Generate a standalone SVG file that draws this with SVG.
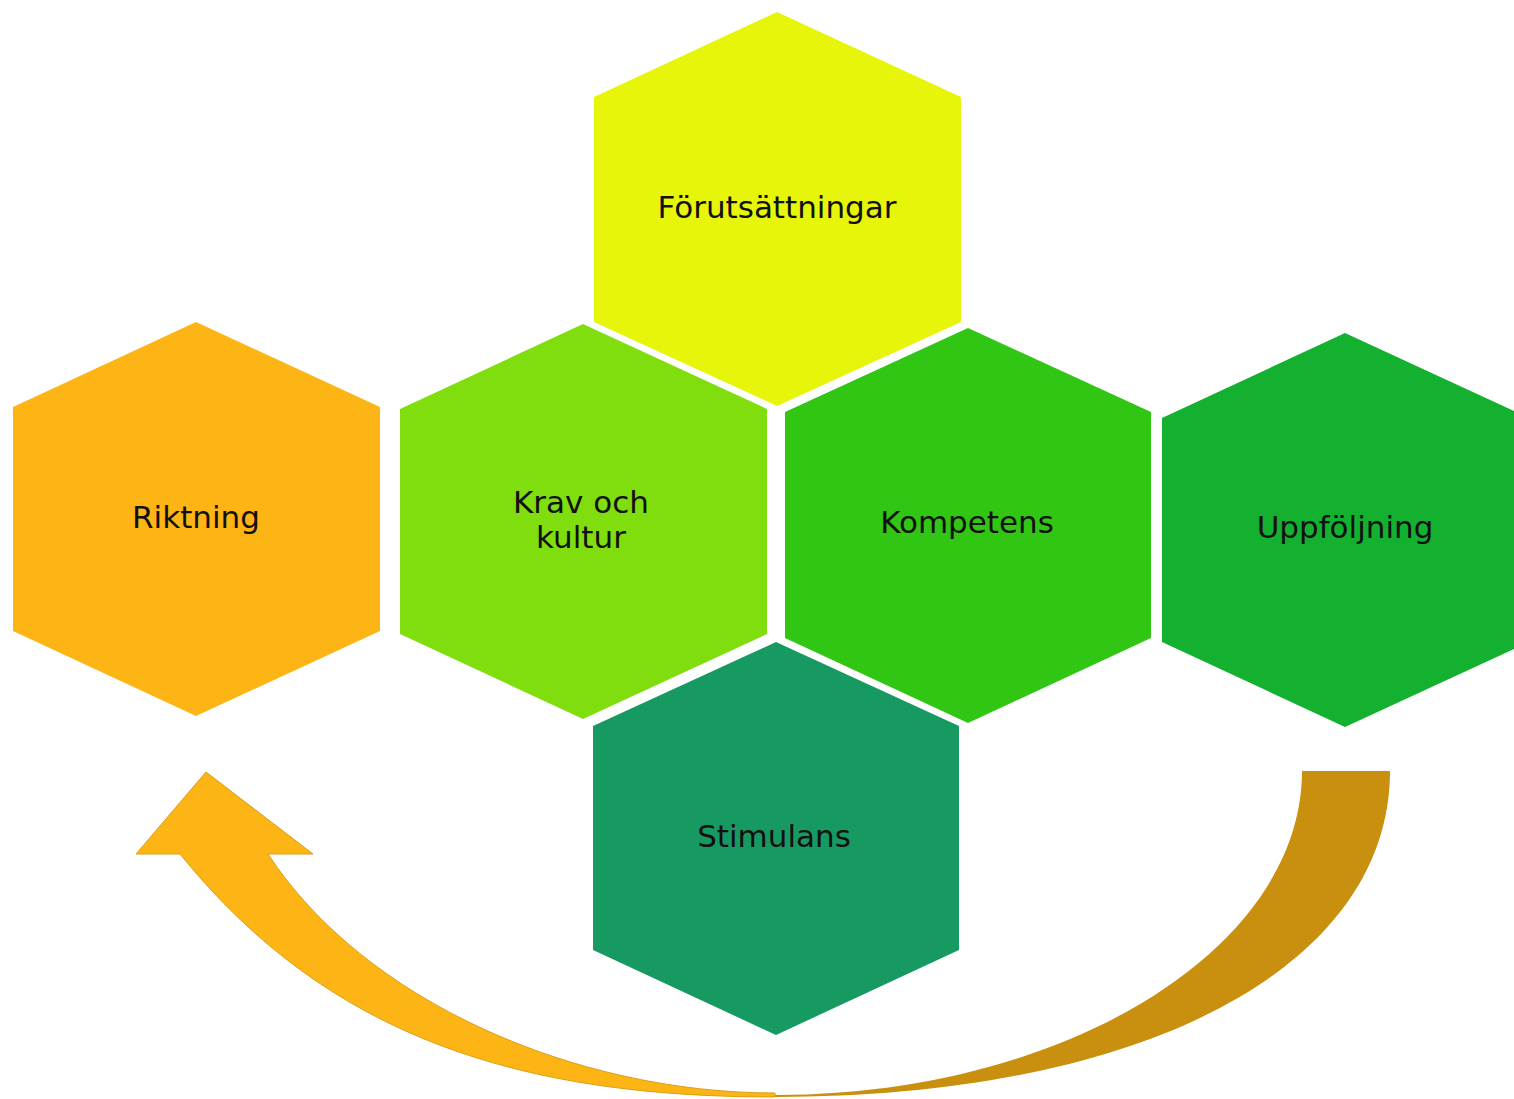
<svg xmlns="http://www.w3.org/2000/svg" width="1514" height="1099" viewBox="0 0 1514 1099">
  <style>
    .lbl { font-family: "DejaVu Sans", "Liberation Sans", sans-serif; font-size: 31px; fill: #111111; text-anchor: middle; }
    .hex { stroke: none; }
  </style>
  <rect x="0" y="0" width="1514" height="1099" fill="#FFFFFF"/>

  <g id="connectors">
    <path id="arrow-back" d="M1302,771 L1390,771 C1390,967 1144,1097 775,1097 L775,1095 C1065,1095 1302,949 1302,771 Z" fill="#C98F0E"/>
    <path id="arrow-front" d="M180,854 C330,1040 525,1097 775,1097 L775,1093 C575,1093 364,1001 268,854 L313,854 L206,772 L136,854 Z" fill="#FDB515" stroke="#D9A017" stroke-width="1" stroke-linejoin="miter"/>
  </g>

  <g id="node-forutsattningar">
    <polygon class="hex" points="777,12 961,97 961,322 777,406 594,322 594,97" fill="#E6F50A"/>
    <text class="lbl" x="777" y="218">Förutsättningar</text>
  </g>

  <g id="node-riktning">
    <polygon class="hex" points="196,322 380,407 380,631 196,716 13,631 13,407" fill="#FDB515"/>
    <text class="lbl" x="196" y="528">Riktning</text>
  </g>

  <g id="node-krav">
    <polygon class="hex" points="583,324 767,409 767,634 583,719 400,634 400,409" fill="#80DE0E"/>
    <text class="lbl" x="581" y="513">Krav och</text>
    <text class="lbl" x="581" y="548">kultur</text>
  </g>

  <g id="node-kompetens">
    <polygon class="hex" points="968,328 1151,412 1151,638 968,723 785,638 785,412" fill="#32C614"/>
    <text class="lbl" x="967" y="533">Kompetens</text>
  </g>

  <g id="node-uppfoljning">
    <polygon class="hex" points="1345,333 1529,418 1529,642 1345,727 1162,642 1162,418" fill="#14B030"/>
    <text class="lbl" x="1345" y="538">Uppföljning</text>
  </g>

  <g id="node-stimulans">
    <polygon class="hex" points="776,642 959,726 959,950 776,1035 593,950 593,726" fill="#179A62"/>
    <text class="lbl" x="774" y="847">Stimulans</text>
  </g>
</svg>
